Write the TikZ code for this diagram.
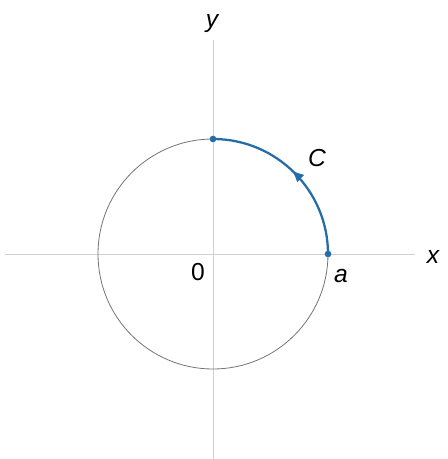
\documentclass[tikz,border=0pt]{standalone}
\usepackage{fontspec}
\setmainfont{Liberation Sans}
\usetikzlibrary{arrows.meta, decorations.markings}

\definecolor{arcblue}{RGB}{38,108,168}

\begin{document}
\begin{tikzpicture}[
        axis/.style={draw=black!18, line width=0.5pt},
        circ/.style={draw=black!55, line width=0.45pt},
        path/.style={draw=arcblue, line width=1.3pt},
        dot/.style={circle, fill=arcblue, inner sep=0pt, minimum size=3.8pt},
        lbl/.style={font=\fontsize{14}{16}\selectfont\itshape},
    ]
    \useasboundingbox (-4.26, -4.10) rectangle (4.70, 5.08);

    % ====== 坐标轴 ======
    \coordinate (o) at (0, 0);
    \coordinate (xl) at (-4.16, 0);
    \coordinate (xr) at (4.04, 0);
    \coordinate (yb) at (0, -4.10);
    \coordinate (yt) at (0, 4.28);
    \draw[axis] (xl) -- (xr);
    \draw[axis] (yb) -- (yt);

    % ====== 圆 ======
    \draw[circ] (o) circle (2.3);

    % ====== 曲线 C ======
    \node[dot] (a) at (2.3, 0) {};
    \node[dot] (b) at (0, 2.3) {};
    \draw[path, postaction={decorate},
        decoration={markings, mark=at position 0.52 with {\arrow{Latex[length=7pt, width=6pt]}}}]
        (a.center) arc[start angle=0, end angle=90, radius=2.3];

    % ====== 标签 ======
    \node[lbl] (ylab) at (-0.02, 4.60) {y};
    \node[lbl] (xlab) at (4.40, -0.06) {x};
    \node[lbl] (clab) at (2.08, 1.92) {C};
    \node[font=\fontsize{14}{16}\selectfont] (zero) at (-0.30, -0.36) {0};
    \node[lbl] (alab) at (2.56, -0.44) {a};

    \end{tikzpicture}
\end{document}
